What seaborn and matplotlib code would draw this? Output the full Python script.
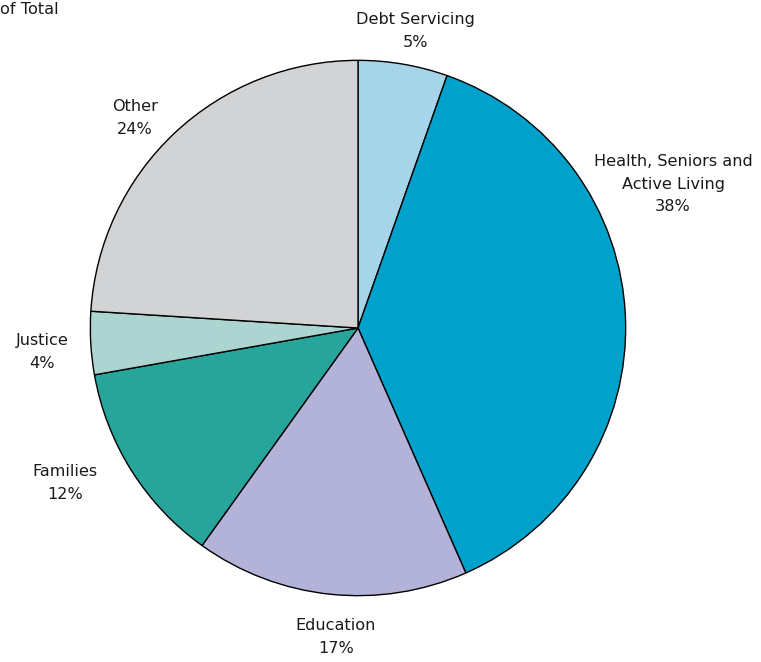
import numpy as np
import matplotlib
matplotlib.use("Agg")
import matplotlib.pyplot as plt
import seaborn as sns

sns.set_theme(style="white")
plt.rcParams['font.family'] = ['DejaVu Sans']

# Data (share of total, %)
categories = ["Debt Servicing", "Health, Seniors and\nActive Living", "Education",
              "Families", "Justice", "Other"]
shares = [5.4, 38.0, 16.5, 12.3, 3.8, 24.0]
pct_labels = ["5%", "38%", "17%", "12%", "4%", "24%"]
colors = ["#a6d4e9", "#00a1cb", "#b3b3da", "#27a59b", "#acd5d2", "#d2d3d5"]

W, H = 761, 662
fig = plt.figure(figsize=(W / 100, H / 100), dpi=100)

# pie axes: centre (358, 328) px, radius 269 px
cx, cy, r = 358, 328, 269
ax = fig.add_axes([(cx - r) / W, (H - cy - r) / H, 2 * r / W, 2 * r / H])
ax.pie(shares, colors=colors, startangle=90, counterclock=False, radius=1.0,
       wedgeprops=dict(edgecolor="black", linewidth=1.0))
ax.set_xlim(-1.005, 1.005)
ax.set_ylim(-1.005, 1.005)
ax.set_aspect("auto")
ax.axis("off")

# label anchor points in pixels (centre of the text block)
label_pos = [(415, 31), (673, 184), (336, 637), (65, 483), (42, 352), (135, 118)]
for name, pct, (px, py) in zip(categories, pct_labels, label_pos):
    fig.text(px / W, 1 - py / H, f"{name}\n{pct}", ha="center", va="center",
             fontsize=11.6, color="#1a1a1a", linespacing=1.6)

fig.text(0.0, 1 - 9 / H, "of Total", ha="left", va="center", fontsize=11.6, color="#1a1a1a")

fig.savefig("out.png", dpi=100)
